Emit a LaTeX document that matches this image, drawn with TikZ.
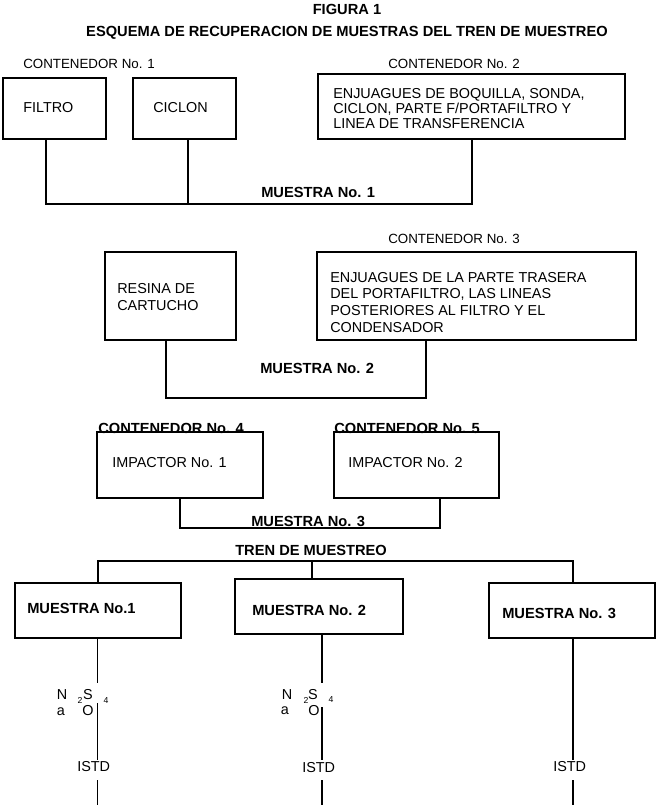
\documentclass[tikz,border=0pt]{standalone}
\usepackage{fontspec}
\setmainfont{Liberation Sans}
\usetikzlibrary{fit}
\begin{document}
\begin{tikzpicture}[x=0.75pt,y=-0.75pt,
  box/.style={draw,line width=1.3pt,inner sep=0pt},
  conn/.style={line width=1.3pt},
  thin conn/.style={line width=0.9pt},
  txt/.style={inner sep=0pt,font=\fontsize{10.8}{13}\selectfont},
  btxt/.style={inner sep=0pt,font=\fontsize{11}{13}\selectfont\bfseries},
  ctxt/.style={inner sep=0pt,font=\fontsize{10}{12}\selectfont},
  subtxt/.style={inner sep=0pt,font=\fontsize{6.5}{7}\selectfont}]
\useasboundingbox (0,0) rectangle (658,807);

% titles
\node[btxt] (fig) at (347,9) {FIGURA 1};
\node[btxt] (title) at (347,33) {ESQUEMA DE RECUPERACION DE MUESTRAS DEL TREN DE MUESTREO};

% ---- group 1
\node[ctxt,anchor=west] (c1) at (23,64) {CONTENEDOR No. 1};
\node[ctxt,anchor=west] (c2) at (388,64) {CONTENEDOR No. 2};
\node[box,fit={(3,78)(106,139)}] (filtro) {};
\node[box,fit={(133,78)(236,139)}] (ciclon) {};
\node[box,fit={(318,74)(625,139)}] (cont2) {};
\node[txt,anchor=west] (filtroT) at (23,108) {FILTRO};
\node[txt,anchor=west] (ciclonT) at (153,108) {CICLON};
\node[txt,anchor=north west,align=left,font=\fontsize{10.8}{11.25}\selectfont] (cont2T) at (333,87.8)
  {ENJUAGUES DE BOQUILLA, SONDA,\\CICLON, PARTE F/PORTAFILTRO Y\\LINEA DE TRANSFERENCIA};
\node[btxt,anchor=west] (mu1) at (261,192) {MUESTRA No. 1};
\coordinate (bar1L) at (46,204);
\coordinate (bar1M) at (188,204);
\coordinate (bar1R) at (472,204);
\draw[conn] (filtro.south -| bar1L) -- (bar1L) -- (bar1R) -- (cont2.south -| bar1R);
\draw[conn] (ciclon.south -| bar1M) -- (bar1M);

% ---- group 2
\node[ctxt,anchor=west] (c3) at (388,239) {CONTENEDOR No. 3};
\node[box,fit={(105,252)(236,340)}] (resina) {};
\node[box,fit={(317,252)(636,340)}] (cont3) {};
\node[txt,anchor=north west,align=left,font=\fontsize{10.8}{13.3}\selectfont] (resinaT) at (117,282.9)
  {RESINA DE\\CARTUCHO};
\node[txt,anchor=north west,align=left,font=\fontsize{10.8}{12.5}\selectfont] (cont3T) at (330,271.9)
  {ENJUAGUES DE LA PARTE TRASERA\\DEL PORTAFILTRO, LAS LINEAS\\POSTERIORES AL FILTRO Y EL\\CONDENSADOR};
\node[btxt,anchor=west] (mu2) at (260,368) {MUESTRA No. 2};
\coordinate (bar2L) at (166,398);
\coordinate (bar2R) at (426,398);
\draw[conn] (resina.south -| bar2L) -- (bar2L) -- (bar2R) -- (cont3.south -| bar2R);

% ---- group 3
\node[box,fit={(97,432)(263,498)}] (imp1) {};
\node[box,fit={(334,432)(499,498)}] (imp2) {};
\node[btxt,anchor=west] (c4) at (98,428) {CONTENEDOR No. 4};
\node[btxt,anchor=west] (c5) at (334,428) {CONTENEDOR No. 5};
\node[txt,anchor=west] (imp1T) at (112,463) {IMPACTOR No. 1};
\node[txt,anchor=west] (imp2T) at (348,463) {IMPACTOR No. 2};
\node[btxt,anchor=west] (mu3) at (251,521) {MUESTRA No. 3};
\coordinate (bar3L) at (180,528);
\coordinate (bar3R) at (440,528);
\draw[conn] (imp1.south -| bar3L) -- (bar3L) -- (bar3R) -- (imp2.south -| bar3R);

% ---- tren de muestreo
\node[btxt,anchor=west] (tren) at (235,550) {TREN DE MUESTREO};
\node[box,fit={(15,583)(181,638)}] (m1) {};
\node[box,fit={(235,579)(403,634)}] (m2) {};
\node[box,fit={(489,583)(655,638)}] (m3) {};
\node[btxt,anchor=west] (m1T) at (27,608) {MUESTRA No.1};
\node[btxt,anchor=west] (m2T) at (252,610) {MUESTRA No. 2};
\node[btxt,anchor=west] (m3T) at (502,613) {MUESTRA No. 3};
\coordinate (bar4L) at (98,561);
\coordinate (bar4M) at (312,561);
\coordinate (bar4R) at (573,561);
\draw[conn] (m1.north -| bar4L) -- (bar4L) -- (bar4R) -- (m3.north -| bar4R);
\draw[conn] (bar4M) -- (m2.north -| bar4M);

% ---- column 1
\coordinate (s1a) at (97.5,683);
\coordinate (s1b) at (97.5,703);
\coordinate (s1c) at (97.5,760);
\coordinate (s1d) at (97.5,780);
\coordinate (s1e) at (97.5,805);
\draw[conn] (m1.south -| s1a) -- (s1a);
\draw[thin conn] (s1b) -- (s1c);
\draw[thin conn] (s1d) -- (s1e);
\node[txt] (n1N) at (62,695) {N};
\node[txt] (n1a) at (61,712) {a};
\node[subtxt] (n1two) at (80,700) {2};
\node[txt] (n1S) at (88,695) {S};
\node[subtxt] (n1four) at (106,701) {4};
\node[txt] (n1O) at (88,711) {O};
\node[txt,anchor=west] (istd1) at (77,767) {ISTD};

% ---- column 2
\coordinate (s2a) at (322,683);
\coordinate (s2b) at (322,707);
\coordinate (s2c) at (322,760);
\coordinate (s2d) at (322,780);
\coordinate (s2e) at (322,805);
\draw[conn] (m2.south -| s2a) -- (s2a);
\draw[thin conn] (s2b) -- (s2c);
\draw[thin conn] (s2d) -- (s2e);
\node[txt] (n2N) at (287,695) {N};
\node[txt] (n2a) at (285,711) {a};
\node[subtxt] (n2two) at (306,700) {2};
\node[txt] (n2S) at (313,695) {S};
\node[subtxt] (n2four) at (331,700) {4};
\node[txt] (n2O) at (314,711) {O};
\node[txt,anchor=west] (istd2) at (302,768) {ISTD};

% ---- column 3
\coordinate (s3c) at (573,760);
\coordinate (s3d) at (573,780);
\coordinate (s3e) at (573,805);
\draw[conn] (m3.south -| s3c) -- (s3c);
\draw[thin conn] (s3d) -- (s3e);
\node[txt,anchor=west] (istd3) at (553,767) {ISTD};
\end{tikzpicture}
\end{document}
